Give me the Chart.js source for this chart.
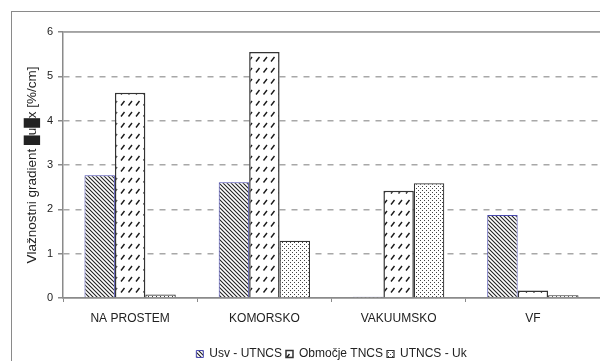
<!DOCTYPE html>
<html>
<head>
<meta charset="utf-8">
<script src="https://cdn.jsdelivr.net/npm/chart.js@4.4.1/dist/chart.umd.min.js"></script>
<style>
  html, body { margin: 0; padding: 0; background: #fff; }
  #wrap { width: 600px; height: 361px; position: relative; }
</style>
</head>
<body>
<div id="wrap"><canvas id="c" width="600" height="361"></canvas></div>
<script>
// Drying methods and the three gradient measures (%/cm)
const categories = ['NA PROSTEM', 'KOMORSKO', 'VAKUUMSKO', 'VF'];
const usvUtncs = [2.77, 2.61, 0.03, 1.87];
const obmocjeTncs = [4.63, 5.55, 2.42, 0.17];
const utncsUk = [0.08, 1.29, 2.59, 0.06];
const seriesNames = ['Usv - UTNCS', 'Območje TNCS', 'UTNCS - Uk'];
const yTicks = [0, 1, 2, 3, 4, 5, 6];
const yTitle = 'Vlažnostni gradient █u█x [%/cm]';

const FONT = '"Liberation Sans", Arial, sans-serif';

function makePattern(w, h, draw) {
  const c = document.createElement('canvas');
  c.width = w; c.height = h;
  const g = c.getContext('2d');
  g.fillStyle = '#fff';
  g.fillRect(0, 0, w, h);
  draw(g);
  return c.getContext('2d').createPattern(c, 'repeat');
}

// dense back-diagonal hatch
const hatchBack = makePattern(4, 4, g => {
  g.strokeStyle = '#222';
  g.lineWidth = 1.1;
  g.beginPath();
  g.moveTo(-1, -1); g.lineTo(5, 5);
  g.moveTo(-1, 3); g.lineTo(1, 5);
  g.moveTo(3, -1); g.lineTo(5, 1);
  g.stroke();
});

// short forward slashes in rows
const slashRows = makePattern(15, 11, g => {
  g.strokeStyle = '#1a1a1a';
  g.lineWidth = 1.4;
  g.beginPath();
  for (const x of [1, 8.5]) {
    g.moveTo(x, 6.5); g.lineTo(x + 3.5, 2);
  }
  g.stroke();
});

// fine staggered dots
const dots = makePattern(4, 4, g => {
  g.fillStyle = '#444';
  g.fillRect(0, 0, 1, 1);
  g.fillRect(2, 2, 1, 1);
});

const framePlugin = {
  id: 'frame',
  beforeDraw(chart) {
    const ctx = chart.ctx;
    ctx.save();
    ctx.fillStyle = '#fff';
    ctx.fillRect(0, 0, chart.width, chart.height);
    ctx.strokeStyle = '#8a8a8a';
    ctx.lineWidth = 1;
    ctx.strokeRect(11.5, 11.5, 620, 400);
    ctx.restore();
  },
  beforeDatasetsDraw(chart) {
    // solid upper edge of the plot area at the axis maximum
    const { ctx, chartArea, scales } = chart;
    const y = scales.y.getPixelForValue(yTicks[yTicks.length - 1]);
    ctx.save();
    ctx.strokeStyle = '#a0a0a0';
    ctx.lineWidth = 1.5;
    ctx.beginPath();
    ctx.moveTo(chartArea.left, y);
    ctx.lineTo(chartArea.right, y);
    ctx.stroke();
    ctx.restore();
  }
};

new Chart(document.getElementById('c'), {
  type: 'bar',
  data: {
    labels: categories,
    datasets: [
      { label: seriesNames[0], data: usvUtncs, backgroundColor: hatchBack,
        borderColor: '#4a4ab0', borderWidth: 1 },
      { label: seriesNames[1], data: obmocjeTncs, backgroundColor: slashRows,
        borderColor: '#333', borderWidth: 1.5 },
      { label: seriesNames[2], data: utncsUk, backgroundColor: dots,
        borderColor: '#333', borderWidth: 1.2 }
    ]
  },
  options: {
    responsive: false,
    animation: false,
    devicePixelRatio: 1,
    layout: { padding: { left: 20, top: 32, right: 0, bottom: -9 } },
    datasets: { bar: { categoryPercentage: 0.68, barPercentage: 1.0 } },
    plugins: {
      legend: {
        position: 'bottom',
        fullSize: false,
        labels: {
          font: { family: FONT, size: 12 },
          color: '#222',
          boxWidth: 7,
          boxHeight: 7,
          padding: 4
        }
      },
      tooltip: { enabled: false }
    },
    scales: {
      x: {
        grid: { display: true, drawOnChartArea: false, drawTicks: true,
                tickLength: 4, offset: true, color: '#8a8a8a' },
        border: { display: true, color: '#8a8a8a', width: 1.5 },
        ticks: { font: { family: FONT, size: 12 }, color: '#222', padding: 9 },
        afterFit(scale) { scale.height = 46; }
      },
      y: {
        min: 0, max: 6,
        afterBuildTicks(scale) { scale.ticks = yTicks.map(v => ({ value: v })); },
        grid: {
          color: ctx => (ctx.tick && ctx.tick.value === 0) ? '#8a8a8a' : '#a8a8a8',
          lineWidth: 1.5,
          tickLength: 5,
          tickColor: '#8a8a8a'
        },
        border: {
          display: true, color: '#8a8a8a', width: 1.5,
          dash: ctx => (ctx.tick && ctx.tick.value > 0 && ctx.tick.value < 6) ? [6, 6] : []
        },
        ticks: { font: { family: FONT, size: 11 }, color: '#222', padding: 5 },
        title: {
          display: true, text: yTitle,
          font: { family: FONT, size: 13.5 }, color: '#222',
          padding: { top: 4, bottom: 0 }
        },
        afterFit(scale) { scale.width = 43; }
      }
    }
  },
  plugins: [framePlugin]
});
</script>
</body>
</html>
